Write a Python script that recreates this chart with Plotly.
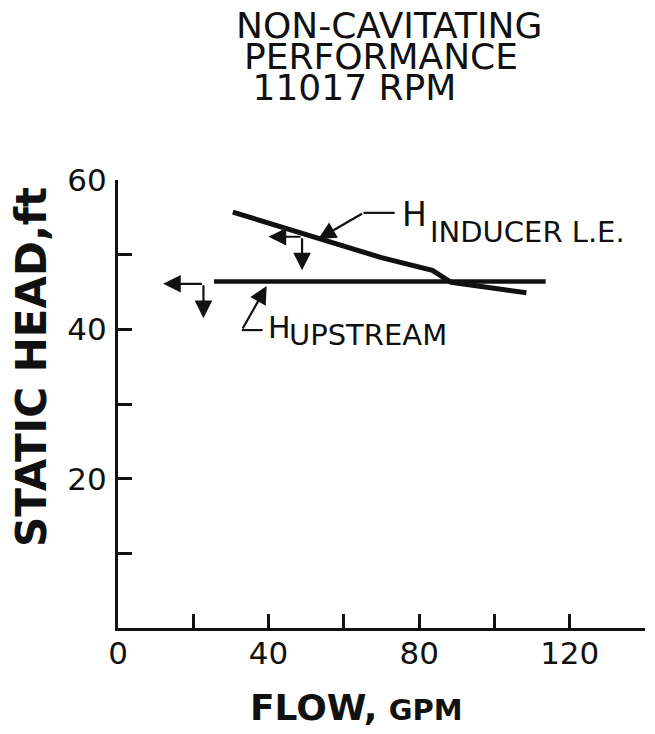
import plotly.graph_objects as go

# ---- data ----
flow_inducer = [30.5, 53.0, 70.0, 83.5, 88.5, 108.5]
head_inducer = [55.7, 52.2, 49.6, 47.9, 46.3, 44.9]

flow_upstream = [25.5, 113.6]
head_upstream = [46.4, 46.4]

x_tickvals = [0, 20, 40, 60, 80, 100, 120]
x_ticktext = ["0", "", "40", "", "80", "", "120"]
y_tickvals = [10, 20, 30, 40, 50, 60]
y_ticktext = ["", "20", "", "40", "", "60"]

title_lines = ["NON-CAVITATING", "PERFORMANCE", "11017 RPM"]

FONT = "DejaVu Sans"
BLACK = "#111111"

fig = go.Figure()
fig.add_trace(go.Scatter(x=flow_inducer, y=head_inducer, mode="lines",
                         line=dict(color=BLACK, width=5), showlegend=False))
fig.add_trace(go.Scatter(x=flow_upstream, y=head_upstream, mode="lines",
                         line=dict(color=BLACK, width=4.5), showlegend=False))

annotations = []

# title: one block, 31 px line pitch, larger glyphs via spans
indents = ["", "<span style='font-size:25px'>&nbsp;</span>",
           "<span style='font-size:52px'>&nbsp;</span>"]
title_text = "<br>".join(
    ind + "<span style='font-size:36px'>" + t + "</span>"
    for ind, t in zip(indents, title_lines))
annotations.append(dict(text=title_text, xref="paper", yref="paper",
                        x=0.221, y=1.272, xanchor="left", yanchor="middle",
                        align="left", showarrow=False,
                        font=dict(family=FONT, size=24, color=BLACK)))

# axis titles
annotations.append(dict(text="<b>FLOW,</b> <b><span style='font-size:29px'>GPM</span></b>",
                        xref="paper", yref="paper", x=0.453, y=-0.178,
                        xanchor="center", yanchor="middle", showarrow=False,
                        font=dict(family=FONT, size=36, color=BLACK)))
annotations.append(dict(text="<b>STATIC HEAD,ft</b>",
                        xref="paper", yref="paper", x=-0.163, y=0.583,
                        xanchor="center", yanchor="middle", showarrow=False,
                        textangle=-90,
                        font=dict(family=FONT, size=42, color=BLACK)))

# curve labels
annotations.append(dict(text="H", x=75.0, y=55.4, xref="x", yref="y",
                        xanchor="left", yanchor="middle", showarrow=False,
                        font=dict(family=FONT, size=33, color=BLACK)))
annotations.append(dict(text="INDUCER L.E.", x=82.3, y=53.1, xref="x", yref="y",
                        xanchor="left", yanchor="middle", showarrow=False,
                        font=dict(family=FONT, size=29, color=BLACK)))
annotations.append(dict(text="H", x=39.2, y=40.3, xref="x", yref="y",
                        xanchor="left", yanchor="middle", showarrow=False,
                        font=dict(family=FONT, size=30, color=BLACK)))
annotations.append(dict(text="UPSTREAM", x=44.8, y=39.3, xref="x", yref="y",
                        xanchor="left", yanchor="middle", showarrow=False,
                        font=dict(family=FONT, size=29, color=BLACK)))

def arrow(tip, tail):
    return dict(x=tip[0], y=tip[1], ax=tail[0], ay=tail[1], xref="x", yref="y",
                axref="x", ayref="y", text="", showarrow=True, arrowhead=2,
                arrowsize=1.6, arrowwidth=2.2, arrowcolor=BLACK, standoff=0,
                startstandoff=0)

# leader arrows
ind_tip, ind_elbow, ind_end = (53.2, 52.1), (65.2, 55.6), (73.5, 55.6)
up_tip, up_elbow, up_end = (39.5, 45.8), (32.9, 39.9), (38.4, 39.9)
annotations.append(arrow(ind_tip, ind_elbow))
annotations.append(arrow(up_tip, up_elbow))

# axis-reference flags  (corner, left tip, down tip)
flags = [((48.9, 52.4), (40.0, 52.4), (48.9, 47.9)),
         ((22.7, 46.1), (12.0, 46.1), (22.7, 41.5))]
shapes = []
for corner, left, down in flags:
    annotations.append(arrow(left, corner))
    annotations.append(arrow(down, corner))

for a, b in [(ind_elbow, ind_end), (up_elbow, up_end)]:
    shapes.append(dict(type="line", xref="x", yref="y", x0=a[0], y0=a[1],
                       x1=b[0], y1=b[1], line=dict(color=BLACK, width=2.2)))

fig.update_layout(
    width=647, height=726,
    margin=dict(l=110, r=10, t=172, b=106),
    paper_bgcolor="white", plot_bgcolor="white",
    annotations=annotations, shapes=shapes,
    showlegend=False,
    xaxis=dict(range=[0, 140], tickvals=x_tickvals, ticktext=x_ticktext,
               ticks="inside", ticklen=14, tickwidth=2.5, tickcolor=BLACK,
               showline=True, linecolor=BLACK, linewidth=3, showgrid=False,
               zeroline=False, ticklabelstandoff=-4,
               tickfont=dict(family=FONT, size=31, color=BLACK)),
    yaxis=dict(range=[0, 60], tickvals=y_tickvals, ticktext=y_ticktext,
               ticks="inside", ticklen=14, tickwidth=2.5, tickcolor=BLACK,
               showline=True, linecolor=BLACK, linewidth=3, showgrid=False,
               zeroline=False, ticklabelstandoff=2,
               tickfont=dict(family=FONT, size=31, color=BLACK)),
)

fig.write_html("out.html")
